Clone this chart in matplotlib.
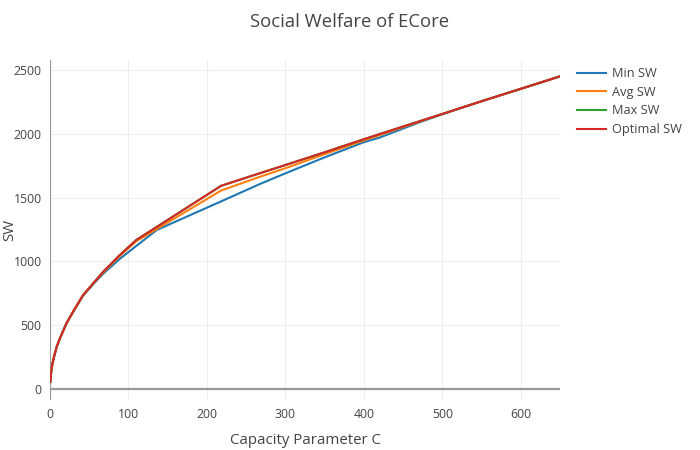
import matplotlib
matplotlib.use("Agg")
import matplotlib.pyplot as plt

# ---- data ----
x_opt = [0.5, 1.5, 3, 5, 8.5, 13, 21, 30, 42, 55, 68, 89, 110, 218, 260, 300, 350, 400, 450, 500, 550, 600, 650]
optimal_sw = [57, 135, 195, 250, 330, 402, 515, 612, 735, 828, 920, 1050, 1168, 1592, 1676, 1755, 1855, 1957, 2057, 2155, 2255, 2352, 2450]
max_sw = optimal_sw

x_avg = [0.5, 1.5, 3, 5, 8.5, 13, 21, 30, 42, 55, 68, 89, 110, 218, 267, 300, 350, 400, 450, 500, 550, 600, 650]
avg_sw = [57, 135, 195, 250, 330, 402, 515, 611, 733, 825, 915, 1042, 1158, 1555, 1662, 1730, 1840, 1948, 2052, 2155, 2255, 2352, 2450]

x_min = [0.5, 1.5, 3, 5, 8.5, 13, 21, 30, 42, 55, 68, 89, 110, 136, 218, 267, 300, 350, 400, 420, 470, 500, 550, 600, 650]
min_sw = [57, 135, 195, 250, 330, 402, 515, 610, 730, 820, 905, 1020, 1121, 1246, 1470, 1605, 1690, 1815, 1934, 1970, 2088, 2153, 2255, 2352, 2450]

series_labels = ["Min SW", "Avg SW", "Max SW", "Optimal SW"]
x_ticks = [0, 100, 200, 300, 400, 500, 600]
y_ticks = [0, 500, 1000, 1500, 2000, 2500]

colors = ["#1f77b4", "#ff7f0e", "#2ca02c", "#d62728"]

plt.rcParams['font.family'] = ['Open Sans', 'DejaVu Sans']
txt = "#444444"

W, H = 700, 450
fig = plt.figure(figsize=(7, 4.5), dpi=100)
L, R, T, B = 50, 560, 60, 400
ax = fig.add_axes([L / W, 1 - B / H, (R - L) / W, (B - T) / H])

lw = 1.5
ax.plot(x_min, min_sw, color=colors[0], lw=lw, label=series_labels[0], zorder=3)
ax.plot(x_avg, avg_sw, color=colors[1], lw=lw, label=series_labels[1], zorder=4)
ax.plot(x_opt, max_sw, color=colors[2], lw=lw, label=series_labels[2], zorder=5)
ax.plot(x_opt, optimal_sw, color=colors[3], lw=lw, label=series_labels[3], zorder=6)

ax.set_xlim(0, 650)
ax.set_ylim(-86, 2578)
ax.set_xticks(x_ticks)
ax.set_yticks(y_ticks)
ax.grid(True, color="#eeeeee", lw=0.8, zorder=0)
for s in ax.spines.values():
    s.set_visible(False)
ax.axhline(0, color="#999999", lw=1.6, zorder=2)
ax.axvline(0, color="#999999", lw=1.6, zorder=2)
ax.tick_params(length=0, labelsize=8.8, labelcolor=txt, pad=6)
ax.set_facecolor("white")

fig.text(350 / W, 1 - 22 / H, "Social Welfare of ECore", ha="center", va="center",
         fontsize=13.3, color=txt)
fig.text(305 / W, 1 - 441 / H, "Capacity Parameter C", ha="center", va="center",
         fontsize=10.8, color=txt)
fig.text(10 / W, 1 - 230 / H, "SW", ha="center", va="center", rotation=90,
         fontsize=10.8, color=txt)

leg = fig.legend(loc="upper left", bbox_to_anchor=(577 / W, 1 - 67 / H), frameon=False,
                 fontsize=9.2, handlelength=2.3, handletextpad=0.45, labelspacing=0.45,
                 borderpad=0, borderaxespad=0)
for t in leg.get_texts():
    t.set_color(txt)
for l in leg.get_lines():
    l.set_linewidth(1.5)

fig.savefig("out.png", dpi=100)
